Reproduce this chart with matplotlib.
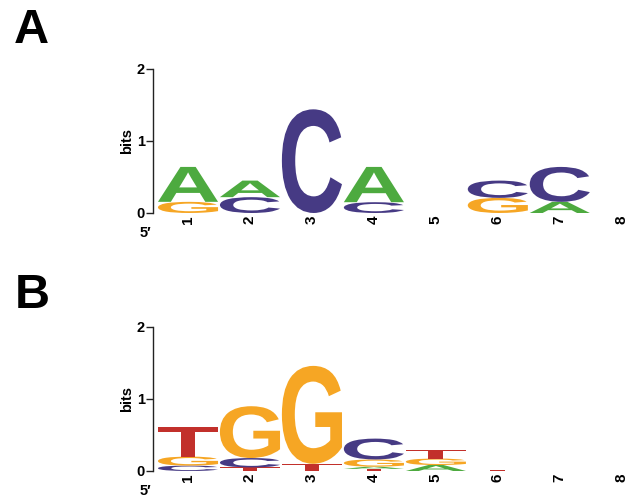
import matplotlib
matplotlib.use('Agg')
import matplotlib.pyplot as plt
from matplotlib.textpath import TextPath
from matplotlib.patches import PathPatch
from matplotlib.font_manager import FontProperties
from matplotlib.transforms import Affine2D

# ---- data ----
positions = [1, 2, 3, 4, 5, 6, 7, 8]
tick_labels = ['1', '2', '3', '4', '5', '6', '7', '8']
y_ticks = [0, 1, 2]

# stacks listed bottom -> top
logo_a_letters = [['G', 'A'], ['C', 'A'], ['C'], ['C', 'A'], [], ['G', 'C'], ['A', 'C'], []]
logo_a_heights = [[0.155, 0.485], [0.22, 0.23], [1.44], [0.15, 0.49], [], [0.21, 0.24], [0.155, 0.485], []]

logo_b_letters = [['C', 'G', 'T'], ['T', 'C', 'G'], ['T', 'G'], ['T', 'A', 'G', 'C'],
                  ['A', 'G', 'T'], ['T'], [], []]
logo_b_heights = [[0.075, 0.125, 0.41], [0.05, 0.13, 0.72], [0.1, 1.36], [0.03, 0.03, 0.1, 0.29],
                  [0.083, 0.09, 0.12], [0.02], [], []]

colors = {'A': '#4DAA3F', 'C': '#463A84', 'G': '#F6A624', 'T': '#C2302B'}

W, H = 636, 497
fig = plt.figure(figsize=(W / 100, H / 100), dpi=100)

glyph_font = FontProperties(family='Liberation Sans', weight='bold')


def draw_letter(ax, ch, x, y, w, h, color):
    tp = TextPath((0, 0), ch, size=1, prop=glyph_font)
    bb = tp.get_extents()
    t = (Affine2D().translate(-bb.x0, -bb.y0)
         .scale(w / bb.width, h / bb.height)
         .translate(x - w / 2, y))
    ax.add_patch(PathPatch(t.transform_path(tp), facecolor=color, edgecolor='none', lw=0))


def make_panel(bottom_px, letters, heights, label, label_baseline_px, label_x_px):
    ax = fig.add_axes([153 / W, 1 - bottom_px / H, 1 - 153 / W, 144 / H])
    for pos, lets, hs in zip(positions, letters, heights):
        y = 0.0
        for ch, h in zip(lets, hs):
            draw_letter(ax, ch, pos, y, 0.97, h, colors[ch])
            y += h
    ax.set_xlim(0.435, 8.23)
    ax.set_ylim(0, 2)
    for s in ['top', 'right', 'bottom']:
        ax.spines[s].set_visible(False)
    ax.spines['left'].set_linewidth(1.0)
    ax.spines['left'].set_color('#222222')
    ax.set_yticks(y_ticks)
    ax.set_yticklabels([str(v) for v in y_ticks], fontsize=10.5, fontweight='bold',
                       family='Liberation Sans')
    ax.tick_params(axis='y', length=5, width=1.0, pad=1, color='#222222')
    ax.set_xticks(positions)
    ax.set_xticklabels(tick_labels, rotation=90, fontsize=11, fontweight='bold',
                       family='Liberation Sans')
    ax.tick_params(axis='x', length=0, pad=2)
    fig.text(127 / W, 1 - (bottom_px - 72) / H, 'bits', rotation=90, ha='center', va='center',
             fontsize=10.5, fontweight='bold', family='Liberation Sans')
    fig.text(140 / W, 1 - (bottom_px + 24) / H, '5\u2032', ha='left', va='baseline',
             fontsize=10.5, fontweight='bold', family=['Liberation Sans', 'DejaVu Sans'])
    fig.text(label_x_px / W, 1 - label_baseline_px / H, label, ha='left', va='baseline',
             fontsize=35, fontweight='bold', family='Liberation Sans')
    return ax


make_panel(213, logo_a_letters, logo_a_heights, 'A', 43, 14)
make_panel(471, logo_b_letters, logo_b_heights, 'B', 308, 15)

fig.savefig('out.png', dpi=100)
